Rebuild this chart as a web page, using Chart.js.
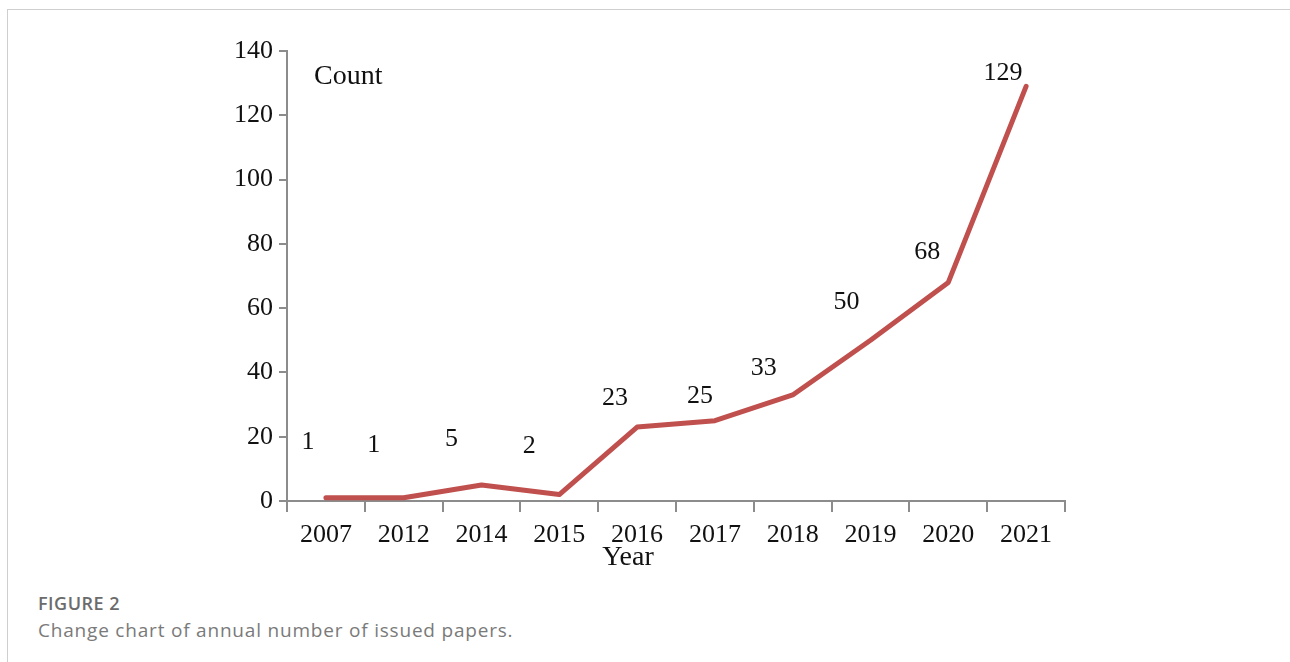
<!DOCTYPE html>
<html>
<head>
<meta charset="utf-8">
<script src="https://cdn.jsdelivr.net/npm/chart.js@4/dist/chart.umd.min.js"></script>
<style>
  html, body { margin: 0; padding: 0; background: #fff; }
  body { width: 1290px; height: 662px; position: relative; overflow: hidden; }
  .card { position: absolute; left: 7px; top: 9px; width: 1300px; height: 700px;
          border-left: 1px solid #cfcfcf; border-top: 1px solid #cfcfcf; }
  #wrap { position: absolute; left: 0; top: 0; width: 1290px; height: 580px; }
  .fig { position: absolute; left: 38px; top: 591px; font-family: "Open Sans", sans-serif;
         font-size: 18px; font-weight: 600; color: #6b6b6b; letter-spacing: 0.5px; }
  .cap { position: absolute; left: 38px; top: 617px; font-family: "Open Sans", sans-serif;
         font-size: 19px; color: #7a7a7a; letter-spacing: 0.8px; }
</style>
</head>
<body>
<div class="card"></div>
<div id="wrap"><canvas id="grafico"></canvas></div>
<div class="fig">FIGURE 2</div>
<div class="cap">Change chart of annual number of issued papers.</div>
<script>
// dados do gráfico
const anos = ['2007', '2012', '2014', '2015', '2016', '2017', '2018', '2019', '2020', '2021'];
const contagem = [1, 1, 5, 2, 23, 25, 33, 50, 68, 129];
const yTicks = [0, 20, 40, 60, 80, 100, 120, 140];

// deslocamento dos rótulos em relação ao ponto (px) - só estilo
const labelDx = [-18, -30, -30, -30, -22, -15, -29, -24, -21, -23];
const labelDy = [-56, -53, -46, -48, -29, -24, -27, -38, -30, -13];

const serif = '"Liberation Serif", "Times New Roman", serif';
const eixoCor = '#8c8c8c';

const rotulos = {
    id: 'rotulos',
    afterDatasetsDraw(chart) {
        const ctx = chart.ctx;
        const meta = chart.getDatasetMeta(0);
        const area = chart.chartArea;
        ctx.save();
        ctx.fillStyle = '#111';
        ctx.textAlign = 'center';
        ctx.textBaseline = 'middle';
        ctx.font = '26px ' + serif;
        meta.data.forEach((pt, i) => {
            ctx.fillText(String(contagem[i]), pt.x + labelDx[i], pt.y + labelDy[i]);
        });
        // títulos dos eixos
        ctx.font = '28px ' + serif;
        ctx.textAlign = 'left';
        ctx.fillText('Count', area.left + 27, area.top + 26);
        ctx.textAlign = 'center';
        ctx.fillText('Year', area.left + 341, area.bottom + 57);
        ctx.restore();
    }
};

const ctx = document.getElementById('grafico').getContext('2d');
const myChart = new Chart(ctx, {
    type: 'line',
    data: {
        labels: anos,
        datasets: [{
            data: contagem,
            borderColor: 'rgb(192, 80, 77)',
            borderWidth: 5,
            borderCapStyle: 'round',
            borderJoinStyle: 'round',
            pointRadius: 0,
            tension: 0,
            fill: false
        }]
    },
    options: {
        responsive: true,
        maintainAspectRatio: false,
        animation: false,
        layout: { padding: { left: 227, right: 225, top: 51, bottom: 9 } },
        plugins: { legend: { display: false }, tooltip: { enabled: false } },
        scales: {
            x: {
                offset: true,
                grid: { offset: true, drawOnChartArea: false, drawTicks: true, tickLength: 11, color: eixoCor, lineWidth: 2 },
                border: { color: eixoCor, width: 2 },
                ticks: { color: '#111', font: { family: serif, size: 26 }, padding: 8, maxRotation: 0 },
                afterFit: s => { s.height = 70; }
            },
            y: {
                min: 0,
                max: 140,
                afterBuildTicks: s => { s.ticks = yTicks.map(v => ({ value: v })); },
                grid: { drawOnChartArea: false, drawTicks: true, tickLength: 8, color: eixoCor, lineWidth: 2 },
                border: { color: eixoCor, width: 2 },
                ticks: { color: '#111', font: { family: serif, size: 26 }, padding: 6 },
                afterFit: s => { s.width = 60; }
            }
        }
    },
    plugins: [rotulos]
});
</script>
</body>
</html>
